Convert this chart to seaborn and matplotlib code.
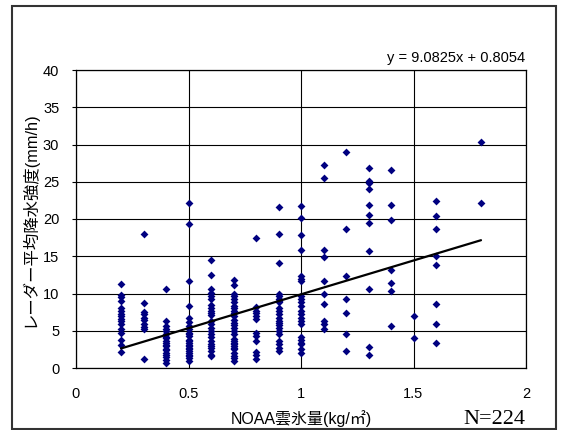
import numpy as np
import pandas as pd
import matplotlib
matplotlib.use("Agg")
import matplotlib.pyplot as plt
import seaborn as sns
from matplotlib.patches import Rectangle

# ---- data ----
y_02 = [11.3, 9.8, 9.5, 9.0, 8.0, 7.6, 7.3, 7.0, 6.6, 6.3, 5.9, 5.2, 4.7, 3.7, 3.1, 2.2]
y_03 = [18.0, 8.7, 7.5, 7.2, 6.7, 6.4, 5.9, 5.5, 5.3, 1.2]
y_04 = [10.6, 6.3, 5.6, 5.2, 4.9, 4.5, 4.2, 4.0, 3.6, 3.4, 3.1, 2.9, 2.6, 2.4, 2.0, 1.8, 1.5, 1.1, 0.7]
y_05 = [22.1, 19.3, 11.7, 8.3, 6.7, 6.2, 5.6, 5.2, 4.7, 4.5, 4.3, 3.8, 3.6, 3.4, 3.1, 2.9, 2.7, 2.5, 2.3, 2.0,
        1.8, 1.6, 1.4, 0.9]
y_06 = [14.5, 12.5, 10.6, 10.1, 9.7, 9.2, 8.5, 8.1, 7.6, 7.4, 7.1, 6.3, 5.9, 5.4, 5.0, 4.5, 4.1, 3.6, 3.2, 3.0,
        2.7, 2.3, 1.8, 1.6]
y_07 = [11.8, 11.2, 10.0, 9.7, 9.2, 8.8, 8.3, 8.1, 7.6, 7.4, 7.0, 6.5, 6.1, 5.8, 5.4, 5.0, 4.5, 3.9, 3.6, 3.4,
        3.2, 2.9, 2.7, 2.5, 2.0, 1.6, 1.4, 0.9]
y_08 = [17.4, 8.2, 7.7, 7.4, 7.0, 6.6, 4.7, 4.3, 3.6, 2.1, 1.7, 1.2]
y_09 = [21.6, 18.0, 14.1, 10.0, 9.6, 9.3, 9.0, 8.8, 8.1, 7.6, 7.2, 6.7, 6.3, 6.1, 5.8, 5.4, 5.0, 4.5, 3.6, 3.2,
        2.7, 2.3]
y_10 = [21.7, 20.2, 17.8, 15.8, 12.4, 12.0, 11.7, 9.6, 9.2, 8.8, 8.3, 7.6, 7.2, 6.7, 6.3, 5.9, 4.2, 3.7, 3.4, 3.2,
        2.5, 2.0]
y_11 = [27.3, 25.5, 15.8, 14.9, 11.7, 10.0, 8.6, 6.3, 5.9, 5.3]
y_12 = [29.0, 18.6, 12.4, 9.3, 7.4, 4.6, 2.3]
y_13 = [26.9, 25.1, 24.8, 24.0, 21.9, 20.6, 19.5, 15.7, 10.6, 2.8, 1.7]
y_14 = [26.6, 21.9, 19.9, 13.1, 11.4, 10.4, 5.7]
y_15 = [7.0, 4.0]
y_16 = [22.4, 20.4, 18.7, 15.1, 13.8, 8.6, 5.9, 3.3]
y_18 = [30.3, 22.1]

x_levels = [0.2, 0.3, 0.4, 0.5, 0.6, 0.7, 0.8, 0.9, 1.0, 1.1, 1.2, 1.3, 1.4, 1.5, 1.6, 1.8]
y_columns = [y_02, y_03, y_04, y_05, y_06, y_07, y_08, y_09, y_10, y_11, y_12, y_13, y_14, y_15, y_16, y_18]

slope = 9.0825
intercept = 0.8054
equation_label = "y = 9.0825x + 0.8054"
n_label = "N=224"

x_ticks = [0, 0.5, 1, 1.5, 2]
x_tick_labels = ["0", "0.5", "1", "1.5", "2"]
y_ticks = [0, 5, 10, 15, 20, 25, 30, 35, 40]

x_title = "NOAA雲氷量(kg/㎡)"
y_title = "レーダー平均降水強度(mm/h)"

# ---- build table ----
xs, ys = [], []
for xv, col in zip(x_levels, y_columns):
    xs.extend([xv] * len(col))
    ys.extend(col)
df = pd.DataFrame({"x": xs, "y": ys})

x_line = np.array([min(x_levels), max(x_levels)])
line_df = pd.DataFrame({"x": x_line, "y": slope * x_line + intercept})

# ---- style ----
sns.set_theme(style="white")
plt.rcParams["font.family"] = ["Liberation Sans", "Noto Sans CJK JP", "DejaVu Sans"]
plt.rcParams["text.color"] = "black"
plt.rcParams["xtick.color"] = "black"
plt.rcParams["ytick.color"] = "black"

W, H = 562, 430
fig = plt.figure(figsize=(W / 100, H / 100), dpi=100)
fig.patch.set_facecolor("white")

left, right, top, bottom = 76, 526, 70, 368
ax = fig.add_axes([left / W, 1 - bottom / H, (right - left) / W, (bottom - top) / H])
ax.set_facecolor("white")

sns.scatterplot(data=df, x="x", y="y", ax=ax, marker="D", color="#000080",
                s=16, linewidth=0, zorder=3, legend=False)
sns.lineplot(data=line_df, x="x", y="y", ax=ax, color="black", linewidth=1.6, zorder=4)

ax.set_xlim(0, 2)
ax.set_ylim(0, 40)
ax.set_xticks(x_ticks)
ax.set_xticklabels(x_tick_labels)
ax.set_yticks(y_ticks)
ax.grid(True, color="black", linewidth=0.8)
ax.set_axisbelow(True)
for sp in ax.spines.values():
    sp.set_color("black")
    sp.set_linewidth(0.9)
ax.tick_params(axis="y", direction="out", length=3, width=0.8, colors="black",
               labelsize=10.5, pad=9, left=True)
ax.tick_params(axis="x", direction="out", length=0, colors="black", labelsize=10.5, pad=14, bottom=True)
ax.set_xlabel("")
ax.set_ylabel("")

# axis titles
fig.text((left + right) / 2 / W, 1 - 419 / H, x_title, ha="center", va="center", fontsize=11.5,
         color="black", family=["Liberation Sans", "Noto Sans CJK JP"])
fig.text(29 / W, 1 - (top + bottom) / 2 / H, y_title, ha="center", va="center", rotation=90,
         fontsize=11.8, color="black", family=["Liberation Sans", "Noto Sans CJK JP"])

# equation and N
fig.text(525 / W, 1 - 62 / H, equation_label, ha="right", va="baseline", fontsize=10.5, color="black")
fig.text(525 / W, 1 - 419 / H, n_label, ha="right", va="center", fontsize=16, color="black",
         family=["Liberation Serif", "DejaVu Serif"])

# outer chart border
fig.patches.append(Rectangle((12 / W, 1 - 429 / H), (556 - 12) / W, (429 - 6) / H,
                             transform=fig.transFigure, fill=False, edgecolor="#333333",
                             linewidth=1.5))

fig.savefig("out.png", dpi=100)
